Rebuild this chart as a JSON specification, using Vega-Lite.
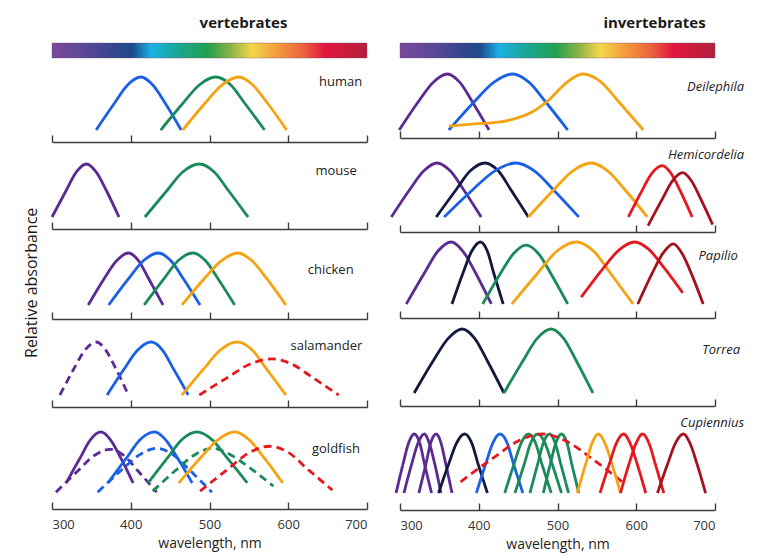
{
"$schema":"https://vega.github.io/schema/vega-lite/v6.json",
"padding":{"left":23,"top":15,"right":4,"bottom":4},
"config":{
 "view":{"stroke":null},
 "font":"Open Sans",
 "line":{"interpolate":"monotone","strokeWidth":2.8,"strokeJoin":"round"},
 "text":{"color":"#222","font":"Open Sans","fontSize":13},
 "title":{"font":"Open Sans","fontSize":15,"fontWeight":"bold","color":"#1a1a1a"},
 "axis":{"grid":false,"domainColor":"#3d3d3d","domainWidth":1.4,"tickColor":"#3d3d3d","tickWidth":1.4,"tickSize":-7,"labelFont":"Open Sans","labelFontSize":13,"labelColor":"#333","titleFont":"Open Sans","titleFontSize":14,"titleFontWeight":"normal","titleColor":"#222"}
},
"datasets":{
"human":[
{"c":"H1","k":"blue","w":356,"a":0},{"c":"H1","k":"blue","w":379,"a":0.5},{"c":"H1","k":"blue","w":396,"a":0.85},{"c":"H1","k":"blue","w":413,"a":1},{"c":"H1","k":"blue","w":428,"a":0.85},{"c":"H1","k":"blue","w":444,"a":0.5},{"c":"H1","k":"blue","w":464,"a":0},
{"c":"H2","k":"green","w":438,"a":0},{"c":"H2","k":"green","w":466,"a":0.5},{"c":"H2","k":"green","w":487,"a":0.85},{"c":"H2","k":"green","w":508,"a":1},{"c":"H2","k":"green","w":527,"a":0.85},{"c":"H2","k":"green","w":545,"a":0.5},{"c":"H2","k":"green","w":570,"a":0},
{"c":"H3","k":"orange","w":466,"a":0},{"c":"H3","k":"orange","w":494,"a":0.5},{"c":"H3","k":"orange","w":516,"a":0.85},{"c":"H3","k":"orange","w":537,"a":1},{"c":"H3","k":"orange","w":555,"a":0.85},{"c":"H3","k":"orange","w":574,"a":0.5},{"c":"H3","k":"orange","w":598,"a":0}
],
"mouse":[
{"c":"M1","k":"violet","w":300,"a":0},{"c":"M1","k":"violet","w":318,"a":0.5},{"c":"M1","k":"violet","w":331,"a":0.85},{"c":"M1","k":"violet","w":344,"a":1},{"c":"M1","k":"violet","w":356,"a":0.85},{"c":"M1","k":"violet","w":369,"a":0.5},{"c":"M1","k":"violet","w":385,"a":0},
{"c":"M2","k":"green","w":418,"a":0},{"c":"M2","k":"green","w":446,"a":0.5},{"c":"M2","k":"green","w":466,"a":0.85},{"c":"M2","k":"green","w":487,"a":1},{"c":"M2","k":"green","w":506,"a":0.85},{"c":"M2","k":"green","w":524,"a":0.5},{"c":"M2","k":"green","w":549,"a":0}
],
"chicken":[
{"c":"C1","k":"violet","w":346,"a":0},{"c":"C1","k":"violet","w":366,"a":0.5},{"c":"C1","k":"violet","w":382,"a":0.85},{"c":"C1","k":"violet","w":397,"a":1},{"c":"C1","k":"violet","w":410,"a":0.85},{"c":"C1","k":"violet","w":423,"a":0.5},{"c":"C1","k":"violet","w":441,"a":0},
{"c":"C2","k":"blue","w":372,"a":0},{"c":"C2","k":"blue","w":397,"a":0.5},{"c":"C2","k":"blue","w":416,"a":0.85},{"c":"C2","k":"blue","w":435,"a":1},{"c":"C2","k":"blue","w":451,"a":0.85},{"c":"C2","k":"blue","w":467,"a":0.5},{"c":"C2","k":"blue","w":488,"a":0},
{"c":"C3","k":"green","w":417,"a":0},{"c":"C3","k":"green","w":442,"a":0.5},{"c":"C3","k":"green","w":460,"a":0.85},{"c":"C3","k":"green","w":479,"a":1},{"c":"C3","k":"green","w":495,"a":0.85},{"c":"C3","k":"green","w":511,"a":0.5},{"c":"C3","k":"green","w":532,"a":0},
{"c":"C4","k":"orange","w":465,"a":0},{"c":"C4","k":"orange","w":493,"a":0.5},{"c":"C4","k":"orange","w":515,"a":0.85},{"c":"C4","k":"orange","w":536,"a":1},{"c":"C4","k":"orange","w":554,"a":0.85},{"c":"C4","k":"orange","w":573,"a":0.5},{"c":"C4","k":"orange","w":597,"a":0}
],
"salamander":[
{"c":"S1","k":"violet","t":"A2","w":310,"a":0},{"c":"S1","k":"violet","t":"A2","w":328,"a":0.5},{"c":"S1","k":"violet","t":"A2","w":342,"a":0.85},{"c":"S1","k":"violet","t":"A2","w":356,"a":1},{"c":"S1","k":"violet","t":"A2","w":368,"a":0.85},{"c":"S1","k":"violet","t":"A2","w":381,"a":0.5},{"c":"S1","k":"violet","t":"A2","w":397,"a":0},
{"c":"S2","k":"blue","t":"A1","w":370,"a":0},{"c":"S2","k":"blue","t":"A1","w":392,"a":0.5},{"c":"S2","k":"blue","t":"A1","w":409,"a":0.85},{"c":"S2","k":"blue","t":"A1","w":426,"a":1},{"c":"S2","k":"blue","t":"A1","w":440,"a":0.85},{"c":"S2","k":"blue","t":"A1","w":454,"a":0.5},{"c":"S2","k":"blue","t":"A1","w":473,"a":0},
{"c":"S3","k":"orange","t":"A1","w":465,"a":0},{"c":"S3","k":"orange","t":"A1","w":493,"a":0.5},{"c":"S3","k":"orange","t":"A1","w":514,"a":0.85},{"c":"S3","k":"orange","t":"A1","w":535,"a":1},{"c":"S3","k":"orange","t":"A1","w":554,"a":0.85},{"c":"S3","k":"orange","t":"A1","w":572,"a":0.5},{"c":"S3","k":"orange","t":"A1","w":597,"a":0},
{"c":"S4","k":"red","t":"A2","w":487,"a":0},{"c":"S4","k":"red","t":"A2","w":524,"a":0.34},{"c":"S4","k":"red","t":"A2","w":551,"a":0.58},{"c":"S4","k":"red","t":"A2","w":579,"a":0.68},{"c":"S4","k":"red","t":"A2","w":605,"a":0.58},{"c":"S4","k":"red","t":"A2","w":630,"a":0.34},{"c":"S4","k":"red","t":"A2","w":664,"a":0}
],
"goldfish":[
{"c":"G1","k":"violet","t":"A1","w":318,"a":0},{"c":"G1","k":"violet","t":"A1","w":336,"a":0.5},{"c":"G1","k":"violet","t":"A1","w":349,"a":0.85},{"c":"G1","k":"violet","t":"A1","w":362,"a":1},{"c":"G1","k":"violet","t":"A1","w":374,"a":0.85},{"c":"G1","k":"violet","t":"A1","w":387,"a":0.5},{"c":"G1","k":"violet","t":"A1","w":403,"a":0},
{"c":"G2","k":"violet","t":"A2","w":305,"a":-0.18},{"c":"G2","k":"violet","t":"A2","w":333,"a":0.24},{"c":"G2","k":"violet","t":"A2","w":353,"a":0.53},{"c":"G2","k":"violet","t":"A2","w":374,"a":0.66},{"c":"G2","k":"violet","t":"A2","w":392,"a":0.53},{"c":"G2","k":"violet","t":"A2","w":409,"a":0.24},{"c":"G2","k":"violet","t":"A2","w":433,"a":-0.18},
{"c":"G3","k":"blue","t":"A1","w":371,"a":0},{"c":"G3","k":"blue","t":"A1","w":395,"a":0.5},{"c":"G3","k":"blue","t":"A1","w":412,"a":0.85},{"c":"G3","k":"blue","t":"A1","w":430,"a":1},{"c":"G3","k":"blue","t":"A1","w":444,"a":0.85},{"c":"G3","k":"blue","t":"A1","w":459,"a":0.5},{"c":"G3","k":"blue","t":"A1","w":478,"a":0},
{"c":"G4","k":"blue","t":"A2","w":358,"a":-0.18},{"c":"G4","k":"blue","t":"A2","w":388,"a":0.25},{"c":"G4","k":"blue","t":"A2","w":411,"a":0.55},{"c":"G4","k":"blue","t":"A2","w":433,"a":0.68},{"c":"G4","k":"blue","t":"A2","w":454,"a":0.55},{"c":"G4","k":"blue","t":"A2","w":475,"a":0.25},{"c":"G4","k":"blue","t":"A2","w":503,"a":-0.18},
{"c":"G5","k":"green","t":"A1","w":422,"a":0},{"c":"G5","k":"green","t":"A1","w":447,"a":0.5},{"c":"G5","k":"green","t":"A1","w":465,"a":0.85},{"c":"G5","k":"green","t":"A1","w":484,"a":1},{"c":"G5","k":"green","t":"A1","w":503,"a":0.85},{"c":"G5","k":"green","t":"A1","w":522,"a":0.5},{"c":"G5","k":"green","t":"A1","w":548,"a":0},
{"c":"G6","k":"green","t":"A2","w":428,"a":-0.16},{"c":"G6","k":"green","t":"A2","w":458,"a":0.26},{"c":"G6","k":"green","t":"A2","w":481,"a":0.55},{"c":"G6","k":"green","t":"A2","w":503,"a":0.68},{"c":"G6","k":"green","t":"A2","w":526,"a":0.56},{"c":"G6","k":"green","t":"A2","w":550,"a":0.31},{"c":"G6","k":"green","t":"A2","w":581,"a":-0.06},
{"c":"G7","k":"orange","t":"A1","w":461,"a":0},{"c":"G7","k":"orange","t":"A1","w":489,"a":0.5},{"c":"G7","k":"orange","t":"A1","w":511,"a":0.85},{"c":"G7","k":"orange","t":"A1","w":532,"a":1},{"c":"G7","k":"orange","t":"A1","w":550,"a":0.85},{"c":"G7","k":"orange","t":"A1","w":569,"a":0.5},{"c":"G7","k":"orange","t":"A1","w":593,"a":0},
{"c":"G8","k":"red","t":"A2","w":488,"a":-0.16},{"c":"G8","k":"red","t":"A2","w":524,"a":0.28},{"c":"G8","k":"red","t":"A2","w":550,"a":0.59},{"c":"G8","k":"red","t":"A2","w":577,"a":0.72},{"c":"G8","k":"red","t":"A2","w":601,"a":0.59},{"c":"G8","k":"red","t":"A2","w":624,"a":0.28},{"c":"G8","k":"red","t":"A2","w":656,"a":-0.14}
],
"deilephila":[
{"c":"D1","k":"violet","w":299,"a":0},{"c":"D1","k":"violet","w":323,"a":0.5},{"c":"D1","k":"violet","w":342,"a":0.85},{"c":"D1","k":"violet","w":360,"a":1},{"c":"D1","k":"violet","w":376,"a":0.85},{"c":"D1","k":"violet","w":392,"a":0.5},{"c":"D1","k":"violet","w":413,"a":0},
{"c":"D2","k":"blue","w":362,"a":0},{"c":"D2","k":"blue","w":394,"a":0.5},{"c":"D2","k":"blue","w":419,"a":0.85},{"c":"D2","k":"blue","w":443,"a":1},{"c":"D2","k":"blue","w":464,"a":0.85},{"c":"D2","k":"blue","w":485,"a":0.5},{"c":"D2","k":"blue","w":513,"a":0},
{"c":"D3","k":"orange","w":362,"a":0.07},{"c":"D3","k":"orange","w":395,"a":0.11},{"c":"D3","k":"orange","w":425,"a":0.14},{"c":"D3","k":"orange","w":450,"a":0.22},{"c":"D3","k":"orange","w":470,"a":0.34},{"c":"D3","k":"orange","w":490,"a":0.55},{"c":"D3","k":"orange","w":510,"a":0.83},{"c":"D3","k":"orange","w":532,"a":1},{"c":"D3","k":"orange","w":555,"a":0.86},{"c":"D3","k":"orange","w":578,"a":0.5},{"c":"D3","k":"orange","w":609,"a":0}
],
"hemicordelia":[
{"c":"E1","k":"violet","w":289,"a":0},{"c":"E1","k":"violet","w":312,"a":0.5},{"c":"E1","k":"violet","w":330,"a":0.85},{"c":"E1","k":"violet","w":347,"a":1},{"c":"E1","k":"violet","w":364,"a":0.85},{"c":"E1","k":"violet","w":381,"a":0.5},{"c":"E1","k":"violet","w":403,"a":0},
{"c":"E2","k":"navy","w":346,"a":0},{"c":"E2","k":"navy","w":371,"a":0.5},{"c":"E2","k":"navy","w":389,"a":0.85},{"c":"E2","k":"navy","w":408,"a":1},{"c":"E2","k":"navy","w":425,"a":0.85},{"c":"E2","k":"navy","w":441,"a":0.5},{"c":"E2","k":"navy","w":463,"a":0},
{"c":"E3","k":"blue","w":356,"a":0},{"c":"E3","k":"blue","w":392,"a":0.5},{"c":"E3","k":"blue","w":420,"a":0.85},{"c":"E3","k":"blue","w":447,"a":1},{"c":"E3","k":"blue","w":471,"a":0.85},{"c":"E3","k":"blue","w":495,"a":0.5},{"c":"E3","k":"blue","w":527,"a":0},
{"c":"E4","k":"orange","w":463,"a":0},{"c":"E4","k":"orange","w":495,"a":0.5},{"c":"E4","k":"orange","w":519,"a":0.85},{"c":"E4","k":"orange","w":543,"a":1},{"c":"E4","k":"orange","w":564,"a":0.85},{"c":"E4","k":"orange","w":586,"a":0.5},{"c":"E4","k":"orange","w":614,"a":0},
{"c":"E5","k":"red","w":590,"a":0},{"c":"E5","k":"red","w":607,"a":0.48},{"c":"E5","k":"red","w":620,"a":0.81},{"c":"E5","k":"red","w":633,"a":0.95},{"c":"E5","k":"red","w":644,"a":0.81},{"c":"E5","k":"red","w":656,"a":0.48},{"c":"E5","k":"red","w":671,"a":0},
{"c":"E6","k":"darkred","w":615,"a":-0.16},{"c":"E6","k":"darkred","w":633,"a":0.33},{"c":"E6","k":"darkred","w":646,"a":0.67},{"c":"E6","k":"darkred","w":659,"a":0.82},{"c":"E6","k":"darkred","w":670,"a":0.67},{"c":"E6","k":"darkred","w":682,"a":0.33},{"c":"E6","k":"darkred","w":697,"a":-0.14}
],
"papilio":[
{"c":"P1","k":"violet","w":308,"a":0},{"c":"P1","k":"violet","w":331,"a":0.5},{"c":"P1","k":"violet","w":348,"a":0.85},{"c":"P1","k":"violet","w":365,"a":1},{"c":"P1","k":"violet","w":380,"a":0.85},{"c":"P1","k":"violet","w":396,"a":0.5},{"c":"P1","k":"violet","w":416,"a":0},
{"c":"P2","k":"navy","w":366,"a":0},{"c":"P2","k":"navy","w":380,"a":0.5},{"c":"P2","k":"navy","w":391,"a":0.85},{"c":"P2","k":"navy","w":402,"a":1},{"c":"P2","k":"navy","w":411,"a":0.85},{"c":"P2","k":"navy","w":419,"a":0.5},{"c":"P2","k":"navy","w":431,"a":0},
{"c":"P3","k":"green","w":405,"a":0},{"c":"P3","k":"green","w":427,"a":0.48},{"c":"P3","k":"green","w":444,"a":0.81},{"c":"P3","k":"green","w":460,"a":0.95},{"c":"P3","k":"green","w":476,"a":0.81},{"c":"P3","k":"green","w":492,"a":0.48},{"c":"P3","k":"green","w":513,"a":0},
{"c":"P4","k":"orange","w":442,"a":0},{"c":"P4","k":"orange","w":475,"a":0.5},{"c":"P4","k":"orange","w":499,"a":0.85},{"c":"P4","k":"orange","w":524,"a":1},{"c":"P4","k":"orange","w":546,"a":0.85},{"c":"P4","k":"orange","w":567,"a":0.5},{"c":"P4","k":"orange","w":596,"a":0},
{"c":"P5","k":"red","w":530,"a":0.11},{"c":"P5","k":"red","w":557,"a":0.56},{"c":"P5","k":"red","w":578,"a":0.87},{"c":"P5","k":"red","w":598,"a":1},{"c":"P5","k":"red","w":616,"a":0.88},{"c":"P5","k":"red","w":635,"a":0.59},{"c":"P5","k":"red","w":659,"a":0.18},
{"c":"P6","k":"darkred","w":602,"a":0},{"c":"P6","k":"darkred","w":620,"a":0.49},{"c":"P6","k":"darkred","w":634,"a":0.82},{"c":"P6","k":"darkred","w":647,"a":0.97},{"c":"P6","k":"darkred","w":658,"a":0.82},{"c":"P6","k":"darkred","w":670,"a":0.49},{"c":"P6","k":"darkred","w":685,"a":0}
],
"torrea":[
{"c":"T1","k":"navy","w":318,"a":0},{"c":"T1","k":"navy","w":342,"a":0.5},{"c":"T1","k":"navy","w":361,"a":0.85},{"c":"T1","k":"navy","w":379,"a":1},{"c":"T1","k":"navy","w":395,"a":0.85},{"c":"T1","k":"navy","w":411,"a":0.5},{"c":"T1","k":"navy","w":432,"a":0},
{"c":"T2","k":"green","w":432,"a":0},{"c":"T2","k":"green","w":456,"a":0.5},{"c":"T2","k":"green","w":474,"a":0.85},{"c":"T2","k":"green","w":492,"a":1},{"c":"T2","k":"green","w":508,"a":0.85},{"c":"T2","k":"green","w":524,"a":0.5},{"c":"T2","k":"green","w":545,"a":0}
],
"cupiennius":[
{"c":"U1","k":"violet","t":"A1","w":295,"a":0},{"c":"U1","k":"violet","t":"A1","w":304,"a":0.5},{"c":"U1","k":"violet","t":"A1","w":311,"a":0.85},{"c":"U1","k":"violet","t":"A1","w":318,"a":1},{"c":"U1","k":"violet","t":"A1","w":325,"a":0.85},{"c":"U1","k":"violet","t":"A1","w":331,"a":0.5},{"c":"U1","k":"violet","t":"A1","w":340,"a":0},
{"c":"U2","k":"violet","t":"A1","w":305,"a":0},{"c":"U2","k":"violet","t":"A1","w":315,"a":0.5},{"c":"U2","k":"violet","t":"A1","w":323,"a":0.85},{"c":"U2","k":"violet","t":"A1","w":331,"a":1},{"c":"U2","k":"violet","t":"A1","w":337,"a":0.85},{"c":"U2","k":"violet","t":"A1","w":344,"a":0.5},{"c":"U2","k":"violet","t":"A1","w":352,"a":0},
{"c":"U3","k":"violet","t":"A1","w":324,"a":0},{"c":"U3","k":"violet","t":"A1","w":333,"a":0.5},{"c":"U3","k":"violet","t":"A1","w":339,"a":0.85},{"c":"U3","k":"violet","t":"A1","w":346,"a":1},{"c":"U3","k":"violet","t":"A1","w":352,"a":0.85},{"c":"U3","k":"violet","t":"A1","w":358,"a":0.5},{"c":"U3","k":"violet","t":"A1","w":366,"a":0},
{"c":"U4","k":"navy","t":"A1","w":349,"a":0},{"c":"U4","k":"navy","t":"A1","w":362,"a":0.5},{"c":"U4","k":"navy","t":"A1","w":372,"a":0.85},{"c":"U4","k":"navy","t":"A1","w":382,"a":1},{"c":"U4","k":"navy","t":"A1","w":391,"a":0.85},{"c":"U4","k":"navy","t":"A1","w":399,"a":0.5},{"c":"U4","k":"navy","t":"A1","w":411,"a":0},
{"c":"U5","k":"blue","t":"A1","w":397,"a":0},{"c":"U5","k":"blue","t":"A1","w":409,"a":0.5},{"c":"U5","k":"blue","t":"A1","w":418,"a":0.85},{"c":"U5","k":"blue","t":"A1","w":427,"a":1},{"c":"U5","k":"blue","t":"A1","w":436,"a":0.85},{"c":"U5","k":"blue","t":"A1","w":444,"a":0.5},{"c":"U5","k":"blue","t":"A1","w":456,"a":0},
{"c":"U6","k":"green","t":"A1","w":433,"a":0},{"c":"U6","k":"green","t":"A1","w":445,"a":0.5},{"c":"U6","k":"green","t":"A1","w":454,"a":0.85},{"c":"U6","k":"green","t":"A1","w":463,"a":1},{"c":"U6","k":"green","t":"A1","w":472,"a":0.85},{"c":"U6","k":"green","t":"A1","w":480,"a":0.5},{"c":"U6","k":"green","t":"A1","w":492,"a":0},
{"c":"U7","k":"green","t":"A1","w":446,"a":0},{"c":"U7","k":"green","t":"A1","w":458,"a":0.5},{"c":"U7","k":"green","t":"A1","w":466,"a":0.85},{"c":"U7","k":"green","t":"A1","w":475,"a":1},{"c":"U7","k":"green","t":"A1","w":484,"a":0.85},{"c":"U7","k":"green","t":"A1","w":493,"a":0.5},{"c":"U7","k":"green","t":"A1","w":505,"a":0},
{"c":"U8","k":"green","t":"A1","w":465,"a":0},{"c":"U8","k":"green","t":"A1","w":475,"a":0.5},{"c":"U8","k":"green","t":"A1","w":482,"a":0.85},{"c":"U8","k":"green","t":"A1","w":490,"a":1},{"c":"U8","k":"green","t":"A1","w":497,"a":0.85},{"c":"U8","k":"green","t":"A1","w":504,"a":0.5},{"c":"U8","k":"green","t":"A1","w":514,"a":0},
{"c":"U9","k":"green","t":"A1","w":482,"a":0},{"c":"U9","k":"green","t":"A1","w":491,"a":0.5},{"c":"U9","k":"green","t":"A1","w":498,"a":0.85},{"c":"U9","k":"green","t":"A1","w":505,"a":1},{"c":"U9","k":"green","t":"A1","w":512,"a":0.85},{"c":"U9","k":"green","t":"A1","w":518,"a":0.5},{"c":"U9","k":"green","t":"A1","w":527,"a":0},
{"c":"U10","k":"red","t":"A2","w":377,"a":0.19},{"c":"U10","k":"red","t":"A2","w":419,"a":0.6},{"c":"U10","k":"red","t":"A2","w":450,"a":0.88},{"c":"U10","k":"red","t":"A2","w":481,"a":1},{"c":"U10","k":"red","t":"A2","w":511,"a":0.88},{"c":"U10","k":"red","t":"A2","w":542,"a":0.6},{"c":"U10","k":"red","t":"A2","w":582,"a":0.19},
{"c":"U11","k":"orange","t":"A1","w":525,"a":0},{"c":"U11","k":"orange","t":"A1","w":536,"a":0.5},{"c":"U11","k":"orange","t":"A1","w":544,"a":0.85},{"c":"U11","k":"orange","t":"A1","w":552,"a":1},{"c":"U11","k":"orange","t":"A1","w":560,"a":0.85},{"c":"U11","k":"orange","t":"A1","w":569,"a":0.5},{"c":"U11","k":"orange","t":"A1","w":580,"a":0},
{"c":"U12","k":"red","t":"A1","w":554,"a":0},{"c":"U12","k":"red","t":"A1","w":566,"a":0.5},{"c":"U12","k":"red","t":"A1","w":575,"a":0.85},{"c":"U12","k":"red","t":"A1","w":584,"a":1},{"c":"U12","k":"red","t":"A1","w":592,"a":0.85},{"c":"U12","k":"red","t":"A1","w":601,"a":0.5},{"c":"U12","k":"red","t":"A1","w":612,"a":0},
{"c":"U13","k":"red","t":"A1","w":580,"a":0},{"c":"U13","k":"red","t":"A1","w":591,"a":0.5},{"c":"U13","k":"red","t":"A1","w":600,"a":0.85},{"c":"U13","k":"red","t":"A1","w":608,"a":1},{"c":"U13","k":"red","t":"A1","w":616,"a":0.85},{"c":"U13","k":"red","t":"A1","w":624,"a":0.5},{"c":"U13","k":"red","t":"A1","w":635,"a":0},
{"c":"U14","k":"darkred","t":"A1","w":627,"a":0},{"c":"U14","k":"darkred","t":"A1","w":640,"a":0.5},{"c":"U14","k":"darkred","t":"A1","w":650,"a":0.85},{"c":"U14","k":"darkred","t":"A1","w":660,"a":1},{"c":"U14","k":"darkred","t":"A1","w":668,"a":0.85},{"c":"U14","k":"darkred","t":"A1","w":677,"a":0.5},{"c":"U14","k":"darkred","t":"A1","w":688,"a":0}
]
},
"spacing":21,
"hconcat":[
{"spacing":0,
 "title":{"text":"Relative absorbance","orient":"left","anchor":"middle","fontSize":16,"fontWeight":"normal","offset":11},
 "vconcat":[
 {"width":315,"height":15,
  "title":{"text":"vertebrates","anchor":"middle","dx":34,"offset":12},
  "data":{"values":[{"from":300,"to":700}]},
  "mark":{"type":"rect","stroke":"#6a4a6a","strokeWidth":0.6,"strokeOpacity":0.6,"fill":{"gradient":"linear","x1":0,"x2":1,"y1":0,"y2":0,"stops":[{"offset":0,"color":"#7b4a9c"},{"offset":0.1,"color":"#5c4898"},{"offset":0.2,"color":"#33468e"},{"offset":0.255,"color":"#1d4a8c"},{"offset":0.315,"color":"#1bb3e3"},{"offset":0.4,"color":"#1aa794"},{"offset":0.495,"color":"#22a04e"},{"offset":0.57,"color":"#8fb445"},{"offset":0.635,"color":"#f5d74a"},{"offset":0.715,"color":"#f39b3b"},{"offset":0.8,"color":"#ec6140"},{"offset":0.865,"color":"#e2163f"},{"offset":1,"color":"#b2203d"}]}},
  "encoding":{"x":{"field":"from","type":"quantitative","scale":{"domain":[300,700],"nice":false,"zero":false},"axis":null},"x2":{"field":"to"}}},
 {"width":315,"height":83,"data":{"name":"human"},"layer":[
  {"mark":"line","encoding":{
   "x":{"field":"w","type":"quantitative","scale":{"domain":[300,700],"nice":false,"zero":false},"axis":{"values":[300,400,500,600,700],"labels":false,"title":null}},
   "y":{"field":"a","type":"quantitative","scale":{"domain":[-0.226,1.34],"nice":false,"zero":false},"axis":null},
   "color":{"field":"k","type":"nominal","scale":{"domain":["violet","navy","blue","green","orange","red","darkred"],"range":["#5b2a93","#111a3c","#1a60e6","#1b8a5a","#f5a312","#e5171f","#a3121f"]},"legend":null},
   "detail":{"field":"c"}}},
  {"data":{"values":[{"name":"human"}]},"mark":{"type":"text","align":"right","baseline":"middle"},"encoding":{"x":{"datum":694,"type":"quantitative"},"y":{"datum":0.9,"type":"quantitative"},"text":{"field":"name"}}}
 ]},
 {"width":315,"height":86,"data":{"name":"mouse"},"layer":[
  {"mark":"line","encoding":{
   "x":{"field":"w","type":"quantitative","scale":{"domain":[300,700],"nice":false,"zero":false},"axis":{"values":[300,400,500,600,700],"labels":false,"title":null}},
   "y":{"field":"a","type":"quantitative","scale":{"domain":[-0.226,1.396],"nice":false,"zero":false},"axis":null},
   "color":{"field":"k","type":"nominal","scale":{"domain":["violet","navy","blue","green","orange","red","darkred"],"range":["#5b2a93","#111a3c","#1a60e6","#1b8a5a","#f5a312","#e5171f","#a3121f"]},"legend":null},
   "strokeWidth":{"condition":{"test":"datum.k === 'violet'","value":1.8},"value":2.8},
   "detail":{"field":"c"}}},
  {"data":{"values":[{"name":"mouse"}]},"mark":{"type":"text","align":"right","baseline":"middle"},"encoding":{"x":{"datum":687,"type":"quantitative"},"y":{"datum":0.87,"type":"quantitative"},"text":{"field":"name"}}}
 ]},
 {"width":315,"height":89,"data":{"name":"chicken"},"layer":[
  {"mark":"line","encoding":{
   "x":{"field":"w","type":"quantitative","scale":{"domain":[300,700],"nice":false,"zero":false},"axis":{"values":[300,400,500,600,700],"labels":false,"title":null}},
   "y":{"field":"a","type":"quantitative","scale":{"domain":[-0.27,1.442],"nice":false,"zero":false},"axis":null},
   "color":{"field":"k","type":"nominal","scale":{"domain":["violet","navy","blue","green","orange","red","darkred"],"range":["#5b2a93","#111a3c","#1a60e6","#1b8a5a","#f5a312","#e5171f","#a3121f"]},"legend":null},
   "detail":{"field":"c"}}},
  {"data":{"values":[{"name":"chicken"}]},"mark":{"type":"text","align":"right","baseline":"middle"},"encoding":{"x":{"datum":683,"type":"quantitative"},"y":{"datum":0.67,"type":"quantitative"},"text":{"field":"name"}}}
 ]},
 {"width":315,"height":87,"data":{"name":"salamander"},"layer":[
  {"mark":"line","encoding":{
   "x":{"field":"w","type":"quantitative","scale":{"domain":[300,700],"nice":false,"zero":false},"axis":{"values":[300,400,500,600,700],"labels":false,"title":null}},
   "y":{"field":"a","type":"quantitative","scale":{"domain":[-0.226,1.415],"nice":false,"zero":false},"axis":null},
   "color":{"field":"k","type":"nominal","scale":{"domain":["violet","navy","blue","green","orange","red","darkred"],"range":["#5b2a93","#111a3c","#1a60e6","#1b8a5a","#f5a312","#e5171f","#a3121f"]},"legend":null},
   "strokeDash":{"field":"t","type":"nominal","scale":{"domain":["A1","A2"],"range":[[1,0],[8,5]]},"legend":null},
   "detail":{"field":"c"}}},
  {"data":{"values":[{"name":"salamander"}]},"mark":{"type":"text","align":"right","baseline":"middle"},"encoding":{"x":{"datum":694,"type":"quantitative"},"y":{"datum":0.92,"type":"quantitative"},"text":{"field":"name"}}}
 ]},
 {"width":315,"height":101,"data":{"name":"goldfish"},"layer":[
  {"mark":"line","encoding":{
   "x":{"field":"w","type":"quantitative","scale":{"domain":[300,700],"nice":false,"zero":false},"axis":{"values":[300,400,500,600,700],"title":"wavelength, nm","labelPadding":16,"titlePadding":5}},
   "y":{"field":"a","type":"quantitative","scale":{"domain":[-0.51,1.47],"nice":false,"zero":false},"axis":null},
   "color":{"field":"k","type":"nominal","scale":{"domain":["violet","navy","blue","green","orange","red","darkred"],"range":["#5b2a93","#111a3c","#1a60e6","#1b8a5a","#f5a312","#e5171f","#a3121f"]},"legend":null},
   "strokeDash":{"field":"t","type":"nominal","scale":{"domain":["A1","A2"],"range":[[1,0],[8,5]]},"legend":null},
   "detail":{"field":"c"}}},
  {"data":{"values":[{"name":"goldfish"}]},"mark":{"type":"text","align":"right","baseline":"middle"},"encoding":{"x":{"datum":691,"type":"quantitative"},"y":{"datum":0.67,"type":"quantitative"},"text":{"field":"name"}}}
 ]}
]},
{"spacing":0,"vconcat":[
 {"width":315,"height":15,
  "title":{"text":"invertebrates","anchor":"middle","dx":97,"offset":12},
  "data":{"values":[{"from":300,"to":700}]},
  "mark":{"type":"rect","stroke":"#6a4a6a","strokeWidth":0.6,"strokeOpacity":0.6,"fill":{"gradient":"linear","x1":0,"x2":1,"y1":0,"y2":0,"stops":[{"offset":0,"color":"#7b4a9c"},{"offset":0.1,"color":"#5c4898"},{"offset":0.2,"color":"#33468e"},{"offset":0.255,"color":"#1d4a8c"},{"offset":0.315,"color":"#1bb3e3"},{"offset":0.4,"color":"#1aa794"},{"offset":0.495,"color":"#22a04e"},{"offset":0.57,"color":"#8fb445"},{"offset":0.635,"color":"#f5d74a"},{"offset":0.715,"color":"#f39b3b"},{"offset":0.8,"color":"#ec6140"},{"offset":0.865,"color":"#e2163f"},{"offset":1,"color":"#b2203d"}]}},
  "encoding":{"x":{"field":"from","type":"quantitative","scale":{"domain":[300,700],"nice":false,"zero":false},"axis":null},"x2":{"field":"to"}}},
 {"width":315,"height":79,"data":{"name":"deilephila"},"layer":[
  {"mark":"line","encoding":{
   "x":{"field":"w","type":"quantitative","scale":{"domain":[300,700],"nice":false,"zero":false},"axis":{"values":[300,400,500,600,700],"labels":false,"title":null}},
   "y":{"field":"a","type":"quantitative","scale":{"domain":[-0.143,1.268],"nice":false,"zero":false},"axis":null},
   "color":{"field":"k","type":"nominal","scale":{"domain":["violet","navy","blue","green","orange","red","darkred"],"range":["#5b2a93","#111a3c","#1a60e6","#1b8a5a","#f5a312","#e5171f","#a3121f"]},"legend":null},
   "detail":{"field":"c"}}},
  {"data":{"values":[{"name":"Deilephila"}]},"mark":{"type":"text","align":"right","baseline":"middle","fontStyle":"italic"},"encoding":{"x":{"datum":737,"type":"quantitative"},"y":{"datum":0.77,"type":"quantitative"},"text":{"field":"name"}}}
 ]},
 {"width":315,"height":93,"data":{"name":"hemicordelia"},"layer":[
  {"mark":"line","encoding":{
   "x":{"field":"w","type":"quantitative","scale":{"domain":[300,700],"nice":false,"zero":false},"axis":{"values":[300,400,500,600,700],"labels":false,"title":null}},
   "y":{"field":"a","type":"quantitative","scale":{"domain":[-0.278,1.444],"nice":false,"zero":false},"axis":null},
   "color":{"field":"k","type":"nominal","scale":{"domain":["violet","navy","blue","green","orange","red","darkred"],"range":["#5b2a93","#111a3c","#1a60e6","#1b8a5a","#f5a312","#e5171f","#a3121f"]},"legend":null},
   "detail":{"field":"c"}}},
  {"data":{"values":[{"name":"Hemicordelia"}]},"mark":{"type":"text","align":"right","baseline":"middle","fontStyle":"italic"},"encoding":{"x":{"datum":737,"type":"quantitative"},"y":{"datum":1.15,"type":"quantitative"},"text":{"field":"name"}}}
 ]},
 {"width":315,"height":85,"data":{"name":"papilio"},"layer":[
  {"mark":"line","encoding":{
   "x":{"field":"w","type":"quantitative","scale":{"domain":[300,700],"nice":false,"zero":false},"axis":{"values":[300,400,500,600,700],"labels":false,"title":null}},
   "y":{"field":"a","type":"quantitative","scale":{"domain":[-0.226,1.145],"nice":false,"zero":false},"axis":null},
   "color":{"field":"k","type":"nominal","scale":{"domain":["violet","navy","blue","green","orange","red","darkred"],"range":["#5b2a93","#111a3c","#1a60e6","#1b8a5a","#f5a312","#e5171f","#a3121f"]},"legend":null},
   "detail":{"field":"c"}}},
  {"data":{"values":[{"name":"Papilio"}]},"mark":{"type":"text","align":"right","baseline":"middle","fontStyle":"italic"},"encoding":{"x":{"datum":729,"type":"quantitative"},"y":{"datum":0.77,"type":"quantitative"},"text":{"field":"name"}}}
 ]},
 {"width":315,"height":87,"data":{"name":"torrea"},"layer":[
  {"mark":"line","encoding":{
   "x":{"field":"w","type":"quantitative","scale":{"domain":[300,700],"nice":false,"zero":false},"axis":{"values":[300,400,500,600,700],"labels":false,"title":null}},
   "y":{"field":"a","type":"quantitative","scale":{"domain":[-0.203,1.156],"nice":false,"zero":false},"axis":null},
   "color":{"field":"k","type":"nominal","scale":{"domain":["violet","navy","blue","green","orange","red","darkred"],"range":["#5b2a93","#111a3c","#1a60e6","#1b8a5a","#f5a312","#e5171f","#a3121f"]},"legend":null},
   "detail":{"field":"c"}}},
  {"data":{"values":[{"name":"Torrea"}]},"mark":{"type":"text","align":"right","baseline":"middle","fontStyle":"italic"},"encoding":{"x":{"datum":732,"type":"quantitative"},"y":{"datum":0.67,"type":"quantitative"},"text":{"field":"name"}}}
 ]},
 {"width":315,"height":103,"data":{"name":"cupiennius"},"layer":[
  {"mark":"line","encoding":{
   "x":{"field":"w","type":"quantitative","scale":{"domain":[300,700],"nice":false,"zero":false},"axis":{"values":[300,400,500,600,700],"title":"wavelength, nm","labelPadding":16,"titlePadding":5}},
   "y":{"field":"a","type":"quantitative","scale":{"domain":[-0.288,1.458],"nice":false,"zero":false},"axis":null},
   "color":{"field":"k","type":"nominal","scale":{"domain":["violet","navy","blue","green","orange","red","darkred"],"range":["#5b2a93","#111a3c","#1a60e6","#1b8a5a","#f5a312","#e5171f","#a3121f"]},"legend":null},
   "strokeDash":{"field":"t","type":"nominal","scale":{"domain":["A1","A2"],"range":[[1,0],[8,5]]},"legend":null},
   "detail":{"field":"c"}}},
  {"data":{"values":[{"name":"Cupiennius"}]},"mark":{"type":"text","align":"right","baseline":"middle","fontStyle":"italic"},"encoding":{"x":{"datum":737,"type":"quantitative"},"y":{"datum":1.19,"type":"quantitative"},"text":{"field":"name"}}}
 ]}
]}
]
}
